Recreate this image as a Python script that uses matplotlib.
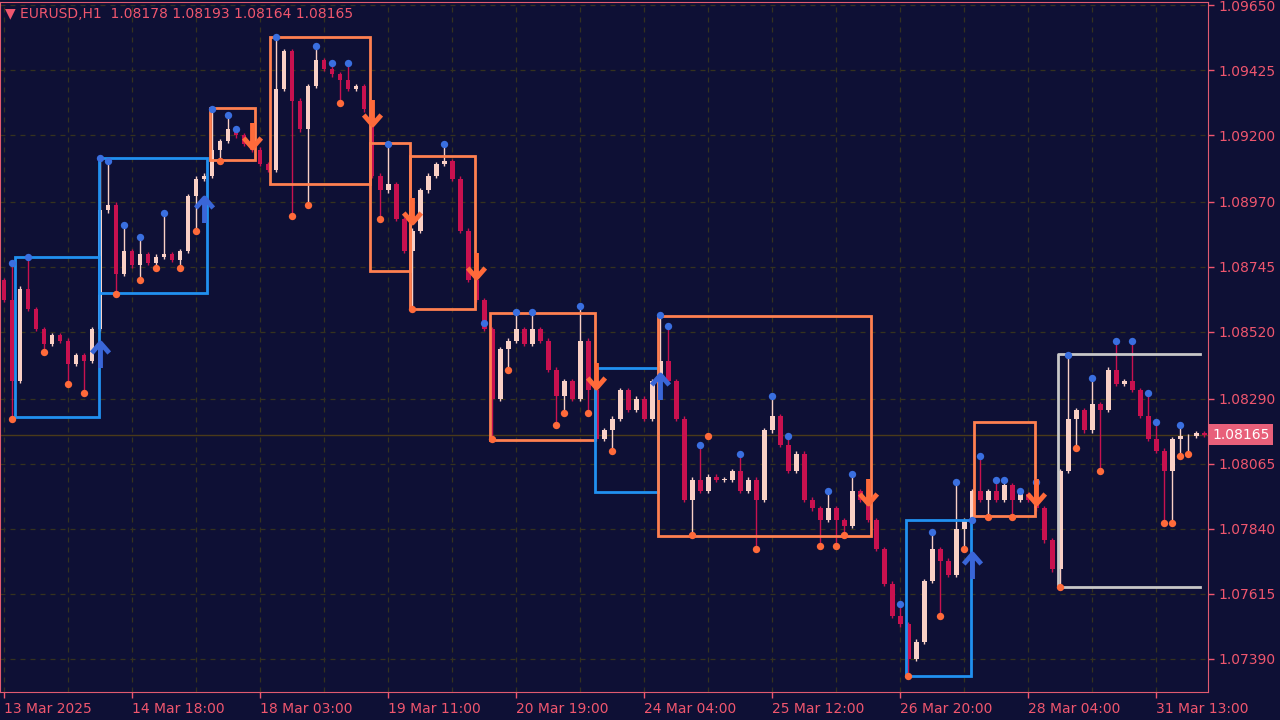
import numpy as np
import matplotlib.pyplot as plt
from matplotlib.path import Path
from matplotlib.patches import Rectangle

# EURUSD 2-hour view of the H1 chart (close prices)
closes = [1.0863, 1.0835, 1.0867, 1.0860, 1.0853, 1.0848, 1.0851, 1.0849, 1.0841, 1.0844,
          1.0842, 1.0853, 1.0894, 1.0896, 1.0872, 1.0880, 1.0875, 1.0879, 1.0876, 1.0878,
          1.0879, 1.0877, 1.0880, 1.0899, 1.0905, 1.0906, 1.0915, 1.0918, 1.0922, 1.0920,
          1.0917, 1.0915, 1.0910, 1.0908, 1.0936, 1.0949, 1.0932, 1.0922, 1.0937, 1.0946,
          1.0943, 1.0941, 1.0939, 1.0936, 1.0937, 1.0929, 1.0906, 1.0901, 1.0903, 1.0891,
          1.0880, 1.0887, 1.0901, 1.0906, 1.0910, 1.0911, 1.0905, 1.0887, 1.0870, 1.0863,
          1.0853, 1.0829, 1.0846, 1.0849, 1.0853, 1.0848, 1.0853, 1.0849, 1.0839, 1.0830,
          1.0835, 1.0829, 1.0849, 1.0832, 1.0815, 1.0818, 1.0822, 1.0832, 1.0825, 1.0829,
          1.0822, 1.0835, 1.0842, 1.0835, 1.0822, 1.0794, 1.0801, 1.0797, 1.0802, 1.0801,
          1.0801, 1.0804, 1.0797, 1.0801, 1.0794, 1.0818, 1.0823, 1.0813, 1.0804, 1.0810,
          1.0794, 1.0791, 1.0787, 1.0791, 1.0787, 1.0785, 1.0797, 1.0794, 1.0787, 1.0777,
          1.0765, 1.0754, 1.0751, 1.0739, 1.0745, 1.0766, 1.0777, 1.0773, 1.0768, 1.0784,
          1.0787, 1.0797, 1.0794, 1.0797, 1.0794, 1.0799, 1.0794, 1.0796, 1.0794, 1.0791,
          1.0780, 1.0770, 1.0804, 1.0822, 1.0825, 1.0818, 1.0827, 1.0825, 1.0839, 1.0834,
          1.0835, 1.0832, 1.0823, 1.0815, 1.0811, 1.0804, 1.0815, 1.0816, 1.0816, 1.0817,
          1.08165]
first_open = 1.0870

# swing highs (blue dots) and swing lows (orange dots): (candle, price)
swing_highs = [(1, 1.0876), (3, 1.0878), (12, 1.0912), (13, 1.0911), (15, 1.0889), (17, 1.0885),
               (20, 1.0893), (26, 1.0929), (28, 1.0927), (29, 1.0922), (34, 1.0954), (39, 1.0951),
               (41, 1.0945), (43, 1.0945), (48, 1.0917), (55, 1.0917), (60, 1.0855), (64, 1.0859),
               (66, 1.0859), (72, 1.0861), (82, 1.0858), (83, 1.0854), (87, 1.0813), (92, 1.0810),
               (96, 1.0830), (98, 1.0816), (103, 1.0797), (106, 1.0803), (112, 1.0758), (116, 1.0783),
               (119, 1.0800), (121, 1.0787), (122, 1.0809), (124, 1.0801), (125, 1.0801), (127, 1.0797),
               (129, 1.0800), (133, 1.0844), (136, 1.0836), (139, 1.0849), (141, 1.0849), (143, 1.0831),
               (144, 1.0821), (147, 1.0820)]
swing_lows = [(1, 1.0822), (5, 1.0845), (8, 1.0834), (10, 1.0831), (14, 1.0865), (17, 1.0870),
              (19, 1.0874), (22, 1.0874), (24, 1.0887), (27, 1.0911), (36, 1.0892), (38, 1.0896),
              (42, 1.0931), (47, 1.0891), (51, 1.0860), (61, 1.0815), (63, 1.0839), (69, 1.0820),
              (70, 1.0824), (73, 1.0824), (76, 1.0811), (86, 1.0782), (88, 1.0816), (94, 1.0777),
              (102, 1.0778), (104, 1.0778), (105, 1.0782), (113, 1.0733), (117, 1.0754), (120, 1.0777),
              (123, 1.0788), (126, 1.0788), (132, 1.0764), (134, 1.0812), (137, 1.0804), (145, 1.0786),
              (146, 1.0786), (147, 1.0809), (148, 1.0810)]

# range boxes: (start, end, top, bottom, kind)
boxes = [(1.4, 11.9, 1.08779, 1.08226, 'bull'), (11.9, 25.4, 1.09121, 1.08655, 'bull'),
         (25.8, 31.4, 1.09294, 1.09114, 'bear'), (33.3, 45.75, 1.09539, 1.09031, 'bear'),
         (45.75, 50.75, 1.09173, 1.08731, 'bear'), (50.75, 58.9, 1.09128, 1.08599, 'bear'),
         (60.75, 73.9, 1.08586, 1.08147, 'bear'), (73.9, 81.75, 1.08395, 1.07967, 'bull'),
         (81.75, 108.4, 1.08575, 1.07815, 'bear'), (112.75, 120.9, 1.07870, 1.07331, 'bull'),
         (121.25, 128.9, 1.08209, 1.07884, 'bear'), (131.75, 149.5, 1.08444, 1.07639, 'open')]

up_arrows = [(12, 1.0844), (25, 1.0894), (82, 1.0833), (121, 1.0771)]
down_arrows = [(31, 1.0920), (46, 1.0928), (51, 1.0894), (59, 1.0875), (74, 1.0837),
               (108, 1.0797), (129, 1.0797)]

price_ticks = [1.07390, 1.07615, 1.07840, 1.08065, 1.08290, 1.08520, 1.08745,
               1.08970, 1.09200, 1.09425, 1.09650]
time_labels = ['13 Mar 2025', '14 Mar 18:00', '18 Mar 03:00', '19 Mar 11:00', '20 Mar 19:00',
               '24 Mar 04:00', '25 Mar 12:00', '26 Mar 20:00', '28 Mar 04:00', '31 Mar 13:00']
last_price = 1.08165

bg = '#0e1035'
txt = '#f0566e'
bull_c, bear_c = '#f9d0c6', '#c8114f'
box_c = {'bull': '#2190f0', 'bear': '#ff8050', 'open': '#c8c8c8'}

fig = plt.figure(figsize=(12.8, 7.2), dpi=100, facecolor=bg)
ax = fig.add_axes([0.0, 0.039, 0.944, 0.958], facecolor=bg)

closes = np.array(closes)
opens = np.concatenate([[first_open], closes[:-1]])
n = len(closes)
highs = np.maximum(opens, closes) + 0.00008
lows = np.minimum(opens, closes) - 0.00008
for i, p in swing_highs:
    highs[i] = max(highs[i], p)
for i, p in swing_lows:
    lows[i] = min(lows[i], p)

grid_c = '#35321f'
for p in price_ticks:
    ax.axhline(p, color=grid_c, ls=(0, (4, 4)), lw=0.9, zorder=0)
for k in range(0, n, 8):
    ax.axvline(k, color=grid_c, ls=(0, (4, 4)), lw=0.9, zorder=0)
ax.axhline(last_price, color='#4a3a1a', lw=1.0, zorder=0)

for i in range(n):
    c = bull_c if closes[i] >= opens[i] else bear_c
    ax.vlines(i, lows[i], highs[i], color=c, lw=1.0, zorder=2)
    h = max(abs(closes[i] - opens[i]), 0.00002)
    ax.add_patch(Rectangle((i - 0.3, min(opens[i], closes[i])), 0.6, h,
                           facecolor=c, edgecolor='none', zorder=3))

for x0, x1, top, bot, kind in boxes:
    col = box_c[kind]
    if kind == 'open':
        ax.plot([x1, x0, x0, x1], [top, top, bot, bot], color=col, lw=2, zorder=4)
    else:
        ax.add_patch(Rectangle((x0, bot), x1 - x0, top - bot, fill=False,
                               edgecolor=col, lw=2, zorder=4))

hx, hy = zip(*swing_highs)
lx, ly = zip(*swing_lows)
ax.scatter(hx, hy, s=28, color='#3a6fe0', zorder=5, linewidths=0)
ax.scatter(lx, ly, s=28, color='#ff6a3a', zorder=5, linewidths=0)

down_path = Path([(0, 1), (0, -1), (-0.7, -0.2), (0, -1), (0.7, -0.2)],
                 [Path.MOVETO, Path.LINETO, Path.MOVETO, Path.LINETO, Path.LINETO])
up_path = Path([(0, -1), (0, 1), (-0.7, 0.2), (0, 1), (0.7, 0.2)],
               [Path.MOVETO, Path.LINETO, Path.MOVETO, Path.LINETO, Path.LINETO])
ux, uy = zip(*up_arrows)
dx, dy = zip(*down_arrows)
ax.plot(ux, uy, ls='none', marker=up_path, ms=18, mew=3.5, mfc='none',
        mec='#3a66d8', zorder=6)
ax.plot(dx, dy, ls='none', marker=down_path, ms=18, mew=3.5, mfc='none',
        mec='#ff6a3a', zorder=6)

ax.set_xlim(-0.5, 150.5)
ax.set_ylim(1.07276, 1.09660)
ax.yaxis.tick_right()
ax.set_yticks(price_ticks)
ax.set_yticklabels([f'{p:.5f}' for p in price_ticks])
ax.set_xticks(range(0, n, 16))
ax.set_xticklabels(time_labels, ha='left')
ax.tick_params(colors=txt, labelsize=10, length=4, width=1)
for lab in ax.get_xticklabels():
    lab.set_color(txt)
for lab in ax.get_yticklabels():
    lab.set_color(txt)
for s in ax.spines.values():
    s.set_color('#e05a70')

ax.text(1.003, last_price, f'{last_price:.5f}', transform=ax.get_yaxis_transform(),
        va='center', ha='left', color='white', fontsize=10,
        bbox=dict(boxstyle='square,pad=0.25', fc='#e8607a', ec='none'))
fig.text(0.004, 0.981, '▼ EURUSD,H1  1.08178 1.08193 1.08164 1.08165',
         color=txt, fontsize=10, va='center')

plt.savefig('out.png', dpi=100, facecolor=bg)
